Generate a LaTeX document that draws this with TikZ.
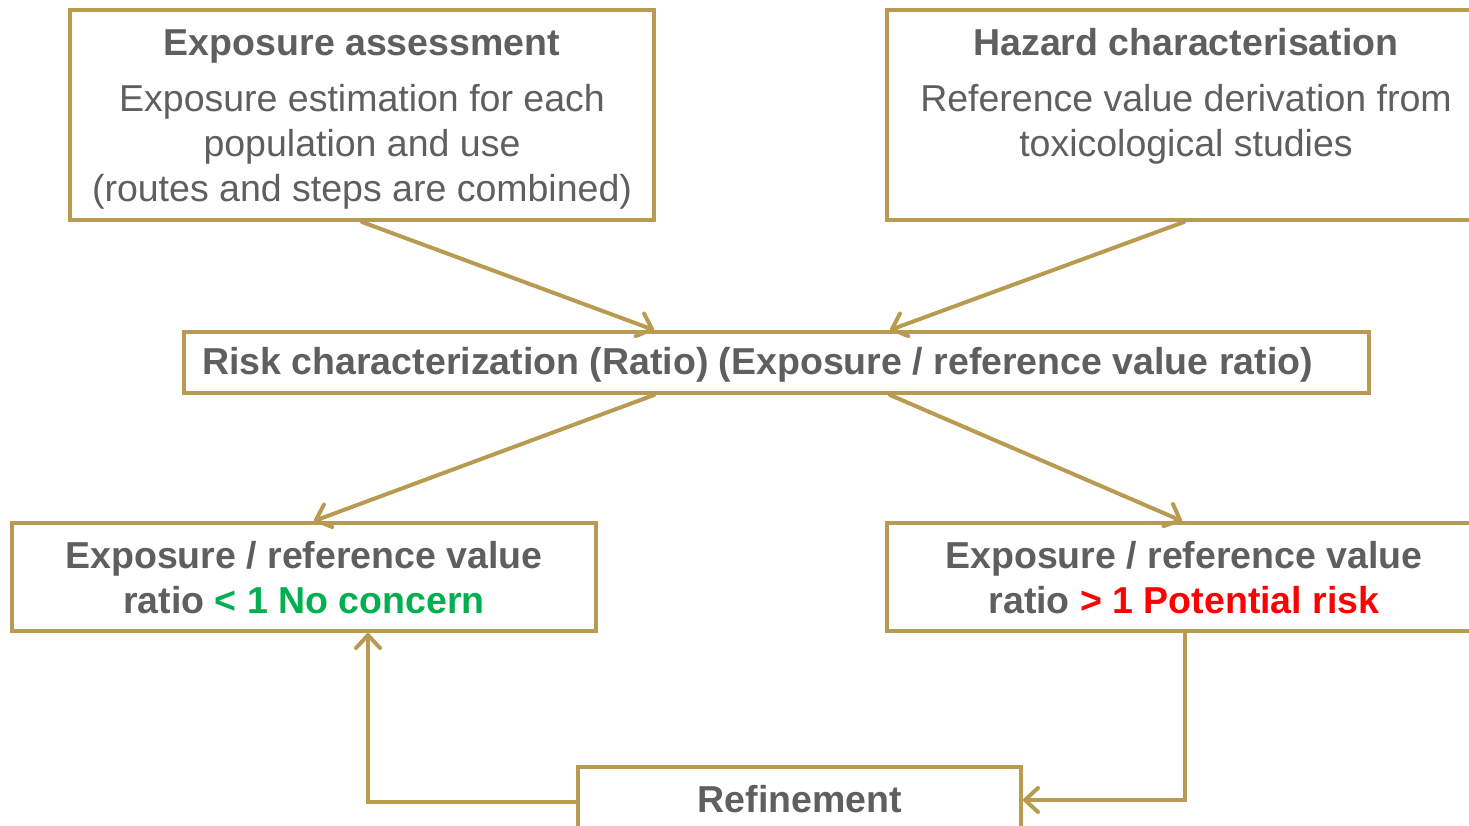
\documentclass[tikz,border=0pt]{standalone}
\usepackage{fontspec}
\setmainfont{Liberation Sans}
\usetikzlibrary{arrows.meta,calc}
\definecolor{gold}{RGB}{184,155,80}
\definecolor{txtgray}{RGB}{95,95,95}
\definecolor{okgreen}{RGB}{0,176,80}
\definecolor{riskred}{RGB}{255,0,0}
\begin{document}
\begin{tikzpicture}[x=1pt,y=-1pt,
  box/.style={draw=gold,line width=4pt,fill=white,inner sep=0pt},
  txt/.style={text=txtgray,inner sep=0pt,align=center,font=\fontsize{37.5}{45}\selectfont},
  btxt/.style={txt,font=\fontsize{37.5}{45}\selectfont\bfseries},
  arr/.style={draw=gold,line width=4pt,line cap=round,-{Straight Barb[length=13pt,width=24pt,line width=4pt,round]}}]
\useasboundingbox (0,0) rectangle (1469,825);
\clip (0,0) rectangle (1469,825);
% boxes
\node[box,minimum width=584pt,minimum height=210pt] (A) at (362,115) {};
\node[box,minimum width=594pt,minimum height=210pt] (B) at (1184,115) {};
\node[box,minimum width=1185pt,minimum height=61pt] (C) at (776.5,362.5) {};
\node[box,minimum width=584pt,minimum height=108pt] (D) at (304,577) {};
\node[box,minimum width=594pt,minimum height=108pt] (E) at (1184,577) {};
\node[box,minimum width=443pt,minimum height=66pt] (F) at (799.5,800) {};
% texts
\node[btxt] (At) at (362,46) {Exposure assessment};
\node[txt] (Ab) at (362,147) {Exposure estimation for each\\population and use\\(routes and steps are combined)};
\node[btxt] (Bt) at (1186,42) {Hazard characterisation};
\node[txt] (Bb) at (1186,124.5) {Reference value derivation from\\toxicological studies};
\node[btxt,anchor=west] (Ct) at (202,365) {Risk characterization (Ratio) (Exposure / reference value ratio)};
\node[btxt] (Dt) at (304,577.5) {Exposure / reference value\\ratio \textcolor{okgreen}{< 1 No concern}};
\node[btxt] (Et) at (1184,577.5) {Exposure / reference value\\ratio \textcolor{riskred}{> 1 Potential risk}};
\node[btxt] (Ft) at (800,799) {Refinement};
% connectors
\draw[arr] (A.south) -- ([xshift=-122.5pt]C.north);
\draw[arr] (B.south) -- ([xshift=113.5pt]C.north);
\draw[arr] ([xshift=-122.5pt]C.south) -- ([xshift=10pt]D.north);
\draw[arr] ([xshift=113.5pt]C.south) -- ([xshift=-2pt]E.north);
\draw[arr] ([xshift=1pt]E.south) |- (F.east);
\draw[arr] ([yshift=-2pt]F.west) -| ([xshift=64pt]D.south);
\end{tikzpicture}
\end{document}
